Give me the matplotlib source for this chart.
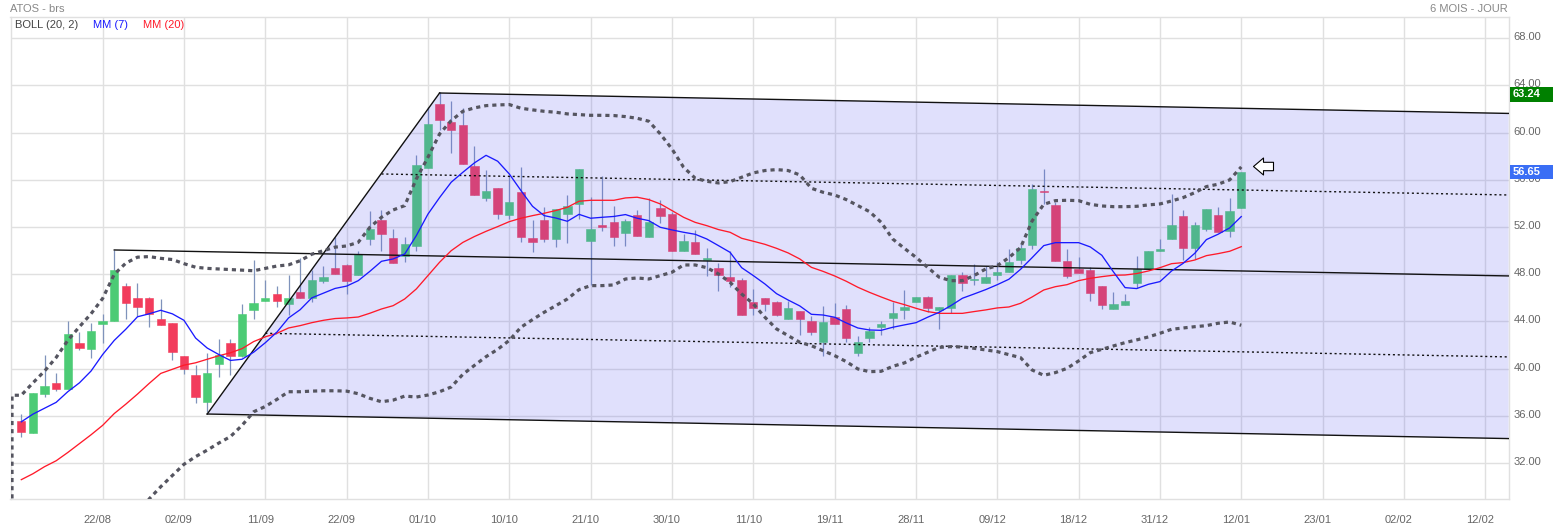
import numpy as np
import matplotlib
matplotlib.use("Agg")
import matplotlib.pyplot as plt
from matplotlib.path import Path
from matplotlib.patches import Polygon, Rectangle
from matplotlib.transforms import ScaledTranslation, blended_transform_factory

plt.rcParams['font.family'] = ['Liberation Sans', 'DejaVu Sans']

opens = [35.57,34.57,37.85,38.75,38.25,42.2,41.7,43.8,44,47,46,46,44.2,43.85,41.1,39.5,37.15,40.4,42.15,41.1,
         45,45.7,46.35,45.5,46.5,46,47.45,48.5,48.8,47.9,50.99,52.58,51.05,49.58,50.43,57.04,62.4,60.88,60.63,57.15,
         54.47,55.29,53.06,54.95,51.05,52.58,51.02,53.14,53.99,50.85,52.18,52.4,51.53,53,51.19,53.59,53.08,50,50.71,49.19,
         48.51,47.75,47.49,45.63,45.97,45.63,44.24,44.86,44.02,42.29,44.36,45.03,41.36,42.63,43.56,44.33,45,45.68,46.05,45,
         45.18,47.97,47.52,47.27,47.94,48.2,49.24,50.49,55.09,53.9,49.16,48.48,48.4,47.04,45.06,45.4,47.27,48.42,49.98,50.99,
         52.97,50.23,51.84,53.06,51.67,53.62]
closes = [34.66,37.97,38.5,38.3,42.9,41.75,43.17,44,48.35,45.55,45.25,44.65,43.7,41.4,40,37.6,39.65,41.2,41.1,44.6,
          45.6,46,45.75,46,46,47.5,47.75,48,47.46,49.72,51.84,51.45,48.93,50.54,57.24,60.7,61.1,60.26,57.38,54.75,
          55.06,53.14,54.1,51.19,50.77,51.02,53.5,53.82,56.93,51.81,52.04,51.14,52.49,51.28,52.4,52.97,50,50.8,49.75,49.36,
          47.97,47.46,44.58,45.18,45.51,44.58,45.12,44.24,43.14,43.93,43.82,42.63,42.24,43.17,43.79,44.7,45.23,46.05,45.12,45.2,
          47.92,47.29,47.58,47.8,48.23,49.07,50.26,55.26,54.98,49.16,47.86,48.11,46.42,45.4,45.51,45.77,48.42,50,50.18,52.2,
          50.26,52.2,53.56,51.62,53.4,56.65]
highs = [36.2,37.97,41.2,39.65,44,43.1,43.9,44.6,50.1,47.25,47.25,46.1,45.9,43.9,41.1,40.35,41.3,42.5,42.5,45.45,
         49.25,47.55,47,47.9,49.4,48.4,48.7,51.2,48.9,49.95,53.37,53.45,51.85,51.14,58.1,62.15,63.48,62.66,62.1,58.85,
         56.81,55.29,56.36,57.07,52.6,53.7,53.5,54.72,56.93,54.53,56.36,53.79,52.69,53.45,54.44,54.27,53.25,51.42,51.76,50.23,
         48.93,50,47.66,46.76,45.97,45.71,45.77,44.86,44.5,45.32,45.54,45.4,42.77,43.51,44.02,45.63,46.64,46.05,46.19,45.2,
         47.92,48.17,48.85,48.7,49,50.12,50.54,55.63,56.9,54.13,50.12,49.44,48.65,47.04,46.53,46.31,49.53,50,50.97,54.84,
         53.42,52.46,53.56,53.73,54.5,56.7]
lows = [34.2,34.57,37.6,38.1,38.25,41.6,40.9,42.15,44,44.2,44.45,43.5,43.7,40.7,39.55,37.1,36.3,39.3,39.5,41,
        44.25,45.7,45.2,44.55,46,45.65,47.3,48,46.35,47.9,50.5,50,48.93,49.07,49.98,57.04,60.26,58.28,57.38,54.75,
        54.24,52.69,52.69,50.77,49.92,50.77,50.34,50.68,52.69,47.12,51.7,50.43,50.43,51.28,51.19,52.35,50,50,49.75,47.89,
        46.62,46.9,44.58,44.58,44.92,44.5,44.24,42.89,42.89,41.1,43.82,42.24,41.1,42.29,42.89,43.37,44.2,45.68,44.78,43.37,
        44.72,46.6,47.07,47.27,47.5,48.2,48.88,50.12,53.93,49.16,47.72,48.11,45.71,45.03,45.06,45.4,46.87,48.42,49.98,50.99,
        49.21,49.33,51.67,51.62,51.16,53.62]

mm7 = [35.5,36.15,36.65,37.15,38.05,38.8,39.8,41.2,42.4,43.35,44.4,44.65,44.95,44.65,44.1,42.6,41.75,41.2,40.7,40.8,
       41.4,42.2,43.1,44.3,45,46,46.4,46.8,47,47.46,48.25,49.1,49.3,49.72,51.28,53.1,54.5,55.8,56.64,57.44,
       58.08,57.58,56.5,55.1,53.76,52.97,52.77,52.49,53.08,52.75,52.83,52.9,53.06,52.75,52.55,51.98,51.76,51.56,51.39,50.99,
       50.43,49.86,48.56,47.89,47.18,46.36,45.82,45.32,44.61,44.55,44.36,43.88,43.45,43.28,43.25,43.51,43.71,43.9,44.36,44.78,
       45.34,45.97,46.33,46.7,47.12,47.58,48.42,49.41,50.43,50.68,50.68,50.68,50.32,49.61,48.2,46.87,46.79,47.15,47.38,48.28,
       48.93,49.78,50.94,51.39,51.93,52.89]
mm20 = [30.6,31.1,31.7,32.2,32.9,33.65,34.4,35.2,36.2,37,37.85,38.75,39.6,39.95,40.3,40.5,40.8,41.1,41.35,41.7,
        42.3,42.7,43,43.45,43.65,43.9,44.1,44.25,44.3,44.38,44.7,45.06,45.34,45.91,46.76,47.89,49.02,50,50.7,51.2,
        51.64,52.04,52.46,52.75,52.97,53.17,53.4,53.68,54.19,54.27,54.27,54.27,54.47,54.53,54.33,53.96,53.4,52.83,52.4,52.12,
        51.79,51.56,51.05,50.8,50.54,50.2,49.81,49.3,48.59,48.25,47.86,47.41,46.9,46.47,46.08,45.71,45.43,45.12,44.84,44.69,
        44.69,44.69,44.84,44.98,45.15,45.23,45.54,46.08,46.67,46.95,47.12,47.46,47.66,47.8,47.92,47.94,48.06,48.28,48.56,48.9,
        48.99,49.21,49.58,49.75,49.95,50.34]
boll_up = [37.75,38.8,39.8,40.95,42.4,43.55,44.65,45.95,48,48.95,49.45,49.5,49.35,49.25,48.9,48.6,48.5,48.45,48.4,48.35,
           48.3,48.5,48.7,48.8,49.15,49.7,50,50.3,50.4,50.71,51.98,52.83,53.45,53.82,56.08,57.92,59.89,61.02,61.81,62.1,
           62.29,62.35,62.38,62.07,61.93,61.81,61.73,61.59,61.53,61.47,61.47,61.45,61.36,61.22,60.97,59.89,58.62,57.07,56.14,55.88,
           55.74,55.85,56.22,56.59,56.79,56.87,56.79,56.42,55.29,54.95,54.72,54.33,53.82,53.31,52.41,50.99,50.2,49.44,48.59,47.75,
           47.46,47.46,47.89,48.45,48.73,49.41,50.26,52.52,53.93,54.24,54.27,54.24,53.93,53.79,53.73,53.73,53.76,53.88,53.96,54.21,
           54.5,54.92,55.43,55.63,56,57.1]
# lower band is visible only from session 10 onwards
boll_low_start = 10
boll_low = [27,28.96,30,30.95,31.9,32.55,33.1,33.7,34.25,35.2,36.35,36.8,37.4,
            38.05,38.05,38.1,38.13,38.13,38.1,37.88,37.49,37.2,37.34,37.68,37.6,37.77,38.05,38.45,39.52,40.28,41.02,41.64,42.4,
            43.51,44.16,44.78,45.34,45.91,46.7,47.04,
            47.04,47.1,47.6,47.69,47.6,47.89,48.17,48.79,48.79,48.56,48.03,47.32,46.33,45.49,44.36,43.37,42.8,42.24,41.95,41.53,
            41.11,40.6,39.98,39.75,39.78,40.2,40.49,40.97,41.39,41.81,41.87,41.84,41.73,41.59,41.45,41.19,40.94,39.89,39.44,39.67,
            40.03,40.66,41.36,41.64,41.93,42.21,42.44,42.69,43,43.34,43.45,43.56,43.65,43.85,43.96,43.68]

# channel anchors: (session index, price)
chan_top_x, chan_top_y = [36, 128], [63.36, 61.63]
chan_bot_x, chan_bot_y = [16, 128], [36.16, 34.08]
chan_mid_x, chan_mid_y = [8, 128], [50.06, 47.86]
chan_dot1_x, chan_dot1_y = [31, 128], [56.5, 54.72]
chan_dot2_x, chan_dot2_y = [21, 128], [43, 41.0]

date_ticks = [7,14,21,28,35,42,49,56,63,70,77,84,91,98,105,112,119,126]
date_labels = ['22/08','02/09','11/09','22/09','01/10','10/10','21/10','30/10','11/10','19/11',
               '28/11','09/12','18/12','31/12','12/01','23/01','02/02','12/02']
price_ticks = [32,36,40,44,48,52,56,60,64,68]
last_high, last_close = 63.24, 56.65
marker_x, marker_y = 106.9, 57.2

W, H = 1553, 530
fig = plt.figure(figsize=(W/100, H/100), dpi=100, facecolor='white')
L, R, T, B = 10.5, 1508.5, 17.0, 499.0
ax = fig.add_axes([L/W, 1-B/H, (R-L)/W, (B-T)/H])
ax.set_xlim(-0.93, 128.0)
ax.set_ylim(28.96, 69.8)
ax.set_facecolor('white')
for s in ax.spines.values():
    s.set_color('#e0e0e0'); s.set_linewidth(1.0)
ax.set_axisbelow(True)
ax.grid(True, color='#e0e0e0', lw=1.0, zorder=0)

ax.yaxis.tick_right()
ax.set_xticks(date_ticks)
ax.set_xticklabels(date_labels)
ax.set_yticks(price_ticks)
ax.set_yticklabels([f'{v:.2f}' for v in price_ticks])
ax.tick_params(axis='both', length=0, labelsize=8, labelcolor='#666666')
ax.tick_params(axis='x', pad=11.5)
ax.tick_params(axis='y', pad=3.6)
for lab in ax.get_xticklabels():
    lab.set_transform(lab.get_transform() + ScaledTranslation(-5/100, 0, fig.dpi_scale_trans))
for lab in ax.get_yticklabels():
    lab.set_transform(lab.get_transform() + ScaledTranslation(0, 2/100, fig.dpi_scale_trans))

x = np.arange(len(opens))
o, c, hi, lo = map(np.array, (opens, closes, highs, lows))
up = c >= o
ax.vlines(x, lo, hi, color='#7f93bb', lw=0.9, zorder=2)
ax.bar(x[up], (c-o)[up], bottom=o[up], width=0.72, color='#4ccb75', edgecolor='#4ccb75', lw=0.4, zorder=3)
ax.bar(x[~up], (o-c)[~up], bottom=c[~up], width=0.72, color='#f23c5c', edgecolor='#f23c5c', lw=0.4, zorder=3)

poly_x = [chan_top_x[0], chan_top_x[1], chan_bot_x[1], chan_bot_x[0]]
poly_y = [chan_top_y[0], chan_top_y[1], chan_bot_y[1], chan_bot_y[0]]
ax.add_patch(Polygon(np.column_stack([poly_x, poly_y]), closed=True, facecolor=(100/255, 100/255, 240/255, 0.2),
                     edgecolor='none', zorder=4))

ax.plot(chan_top_x, chan_top_y, color='#111111', lw=1.0, zorder=5)
ax.plot(chan_bot_x, chan_bot_y, color='#111111', lw=1.0, zorder=5)
ax.plot(chan_mid_x, chan_mid_y, color='#111111', lw=1.0, zorder=5)
ax.plot([chan_bot_x[0], chan_top_x[0]], [chan_bot_y[0], chan_top_y[0]], color='#111111', lw=1.0, zorder=5)
ax.plot(chan_dot1_x, chan_dot1_y, color='#111111', lw=1.0, ls=(0, (1.5, 2)), zorder=5)
ax.plot(chan_dot2_x, chan_dot2_y, color='#111111', lw=1.0, ls=(0, (1.5, 2)), zorder=5)

boll_dash = (0, (1.3, 1.25))
ax.plot(np.r_[-0.8, -0.8, x], np.r_[0, boll_up[0], boll_up], color='#555560', lw=2.3, ls=boll_dash, zorder=6)
ax.plot(x[boll_low_start:], boll_low, color='#555560', lw=2.3, ls=boll_dash, zorder=6)
ax.plot(x, mm20, color='#ff1a2a', lw=0.95, zorder=7)
ax.plot(x, mm7, color='#1a1aff', lw=0.95, zorder=7)

arrow = Path([(-10, 0), (0, 8.5), (0, 4.2), (10, 4.2), (10, -4.2), (0, -4.2), (0, -8.5), (-10, 0)], closed=True)
ax.plot([marker_x], [marker_y], marker=arrow, ms=14.4, mfc='white', mec='black', mew=0.8, ls='none', zorder=8)

# price badges over the right-hand scale
tr = blended_transform_factory(fig.transFigure, ax.transData)
badge_h = 14.6 / ((B-T)/(69.8-28.96))
for val, col in ((last_high, '#008000'), (last_close, '#3a6ef5')):
    fig.add_artist(Rectangle((1510/W, val-badge_h/2), 43/W, badge_h, transform=tr, facecolor=col, edgecolor='none', zorder=10))
    t = fig.text(1513/W, val, f'{val:.2f}', color='white', fontsize=8, fontweight='bold', va='center', ha='left', transform=tr, zorder=11)

fig.text(10/W, 1-9/H, 'ATOS - brs', color='#888888', fontsize=8, va='center', ha='left')
fig.text(1508/W, 1-9/H, '6 MOIS - JOUR', color='#888888', fontsize=8, va='center', ha='right')
fig.text(15/W, 1-25/H, 'BOLL (20, 2)', color='#444444', fontsize=8, va='center', ha='left')
fig.text(93/W, 1-25/H, 'MM (7)', color='#1a1aff', fontsize=8, va='center', ha='left')
fig.text(143/W, 1-25/H, 'MM (20)', color='#ff1a2a', fontsize=8, va='center', ha='left')

for a in (opens, closes, highs, lows, mm7, mm20, boll_up):
    assert len(a) == 106, len(a)
assert len(boll_low) == 96, len(boll_low)
fig.savefig('out.png', dpi=100, facecolor='white')
